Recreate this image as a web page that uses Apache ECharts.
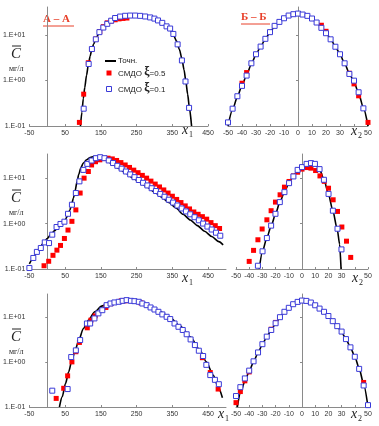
<!DOCTYPE html>
<html><head><meta charset="utf-8">
<script src="https://cdn.jsdelivr.net/npm/echarts@6/dist/echarts.min.js"></script>
<style>html,body{margin:0;padding:0;background:#fff}#c{width:379px;height:426px}</style>
</head><body><div id="c"></div>
<script>
// ---- tick values / labels ----
const yTicks = [0.1, 1, 10];
const xTicksLeft = [-50, 50, 150, 250, 350, 450];
const xTicksRight = [-50, -40, -30, -20, -10, 0, 10, 20, 30, 40, 50];
const xLabelsRight = [-50, -40, -30, -20, -10, 0, 10, 20, 30, 50];
const legendNames = ['Точн.', 'СМДО ξ=0.5', 'СМДО ξ=0.1'];

// ---- Row 1 : А – А (x1) ----
const exact1L = [[93,0.1],[97,0.2],[101,0.4],[105,0.7],[110,1.3],[115,2.2],[120,3.4],[125,4.9],[130,6.3],[137,8.5],[146,11.5],[157,14.8],[168,18],[180,21],[192,23.5],[205,25.3],[220,26.3],[240,26.7],[260,26.4],[280,25.3],[292,24],[300,23.2],[310,21.3],[322,18.8],[334,15.8],[344,13],[353,10],[362,7.3],[370,4.8],[377,3],[383,1.7],[388,0.95],[393,0.5],[398,0.25],[404,0.1]];
const red1L = [[90,0.12],[102,0.5],[115,2.45],[125,4.8],[136,8.1],[147,11.8],[157,15.2],[168,18.4],[179,20.2],[190,21.5],[201,22.5],[212,23],[223,23.5]];
const blue1L = [[102,0.24],[116,2.3],[125,4.9],[136,8.0],[146,11.5],[157,14.5],[168,17.5],[179,20.5],[190,23.5],[204,25.3],[218,26.3],[232,26.6],[246,26.6],[260,26.2],[274,25.4],[288,24.2],[300,22.8],[310,20.8],[322,18.4],[334,15.4],[344,13.8],[353,10.5],[365,6.2],[377,2.75],[387,0.95],[397,0.25]];

// ---- Row 1 : Б – Б (x2) ----
const exact1R = [[-50,0.1],[-46.7,0.23],[-43.3,0.44],[-40,0.78],[-36.7,1.32],[-33.3,2.3],[-30,3.7],[-26.7,5.6],[-23.3,8.1],[-20,11.4],[-16.7,15.5],[-13.3,19.5],[-10,23.2],[-6.7,26.4],[-3.3,28.5],[0,29.3],[3.3,28.4],[6.7,26.2],[10,22.9],[13.3,18.9],[16.7,14.8],[20,11.2],[23.3,8.1],[26.7,5.6],[30,3.75],[33.3,2.35],[36.7,1.42],[40,0.93],[43.3,0.52],[46.7,0.25],[50,0.1]];
const red1R = [[-40,0.87],[-36.7,1.49],[16.7,16.3],[20,12],[36.7,1.44],[40,0.84],[43.3,0.46],[50,0.12]];
const blue1R = [[-50,0.12],[-46.7,0.24],[-43.3,0.45],[-40,0.76],[-36.7,1.28],[-33.3,2.38],[-30,3.76],[-26.7,5.54],[-23.3,8.2],[-20,11.5],[-16.7,15.8],[-13.3,19.3],[-10,23.2],[-6.7,26.6],[-3.3,28.5],[0,29.4],[3.3,28],[6.7,26.2],[10,22.9],[13.3,18.7],[16.7,14.3],[20,10.9],[23.3,8.0],[26.7,5.5],[30,3.76],[33.3,2.38],[36.7,1.39],[40,0.99],[43.3,0.55],[46.7,0.244]];

// ---- Row 2 (x1) ----
const exact2L = [[-50,0.13],[-40,0.17],[-30,0.23],[-20,0.3],[-10,0.38],[0,0.47],[10,0.57],[20,0.69],[30,0.82],[40,0.98],[50,1.2],[57,1.5],[63,1.95],[68,2.6],[73,3.6],[78,5.3],[83,8.2],[88,12],[94,17],[101,21.5],[110,25.5],[120,28.5],[130,30],[140,29.8],[150,28.2],[160,26],[180,21],[200,16.3],[220,12.8],[240,10],[260,8],[280,6.3],[300,4.9],[320,3.8],[340,2.9],[360,2.2],[380,1.6],[400,1.2],[420,0.9],[440,0.68],[460,0.52],[480,0.4],[492,0.34]];
const red2L = [[-9,0.118],[4,0.148],[16,0.2],[27,0.26],[37,0.33],[48,0.47],[58,0.72],[69,1.12],[80,2.0],[92,4.7],[103,10],[115,14],[124,19.5],[135,23],[147,25.3],[159,27],[170,27.5],[182,26.5],[194,24.5],[206,22],[218,19.5],[230,17.2],[242,15],[254,13.2],[266,11.5],[278,10],[290,8.6],[302,7.4],[314,6.4],[326,5.5],[338,4.7],[350,4.0],[362,3.4],[374,2.9],[386,2.45],[398,2.1],[410,1.8],[422,1.6],[434,1.42],[446,1.25],[458,1.05],[470,0.9],[482,0.78]];
const blue2L = [[-50,0.105],[-39,0.175],[-29,0.238],[-18,0.29],[-7,0.385],[5,0.372],[14,0.57],[26,0.84],[37,0.98],[48,1.1],[58,1.64],[69,2.6],[80,4.7],[90,8.5],[101,15.2],[112,20.6],[124,24.4],[136,27.5],[148,28.9],[160,27.5],[172,24.5],[184,21.5],[196,18.7],[208,16.2],[220,14],[232,12.1],[244,10.5],[256,9.1],[268,7.9],[280,6.9],[292,6],[304,5.2],[316,4.5],[328,3.9],[340,3.35],[352,2.9],[364,2.5],[376,2.15],[388,1.85],[400,1.6],[412,1.38],[424,1.18],[436,1.0],[448,0.86],[460,0.74],[472,0.63],[484,0.54]];

// ---- Row 2 (x2) ----
const exact2R = [[-32.4,0.1],[-30,0.24],[-26.7,0.48],[-23.3,0.9],[-20,1.65],[-16.7,3],[-13.3,4.9],[-10,7.7],[-6.7,11],[-3.3,14.8],[0,18],[3.3,20.3],[6.7,21.3],[9,20.5],[11.5,18],[13.5,15],[16.7,9.2],[20,4.5],[23.3,1.95],[26.7,0.75],[28.5,0.35],[29.6,0.1]];
const red2R = [[-40,0.147],[-36.7,0.257],[-33.4,0.44],[-30.2,0.76],[-26.6,1.21],[-23.4,1.92],[-20.1,2.97],[-16.6,4.3],[-13.3,6.34],[-9.8,8.45],[-6.5,11.2],[-3.3,13.5],[0,15.8],[3.5,17.1],[6.8,16.6],[10.3,14.7],[13.6,11.2],[16.9,8.5],[20.1,6.0],[23.6,3.34],[26.9,1.85],[30.2,0.84],[33.7,0.41],[36.9,0.18]];
const blue2R = [[-33.4,0.118],[-29.9,0.245],[-26.6,0.48],[-23.4,0.9],[-20.1,1.64],[-16.8,2.97],[-13.3,4.92],[-9.8,7.76],[-6.5,10.9],[-3.3,15.2],[0,17.5],[3.5,20.6],[6.8,21.4],[9.8,20.6],[13.3,15.8],[16.6,9.2],[20.1,4.5],[23.4,1.92],[26.9,0.77],[29.9,0.27]];

// ---- Row 3 (x1) ----
const exact3L = [[34,0.1],[42,0.17],[51,0.33],[60,0.6],[69,1.1],[78,1.8],[88,3.0],[101,5.5],[115,8.4],[133,12.9],[152,17.2],[179,21.5],[207,23.4],[234,22.6],[262,20.4],[289,16.6],[317,12.9],[344,9.5],[372,6.2],[400,3.6],[427,1.83],[445,1.0],[464,0.51],[478,0.28],[490,0.16]];
const red3L = [[25,0.155],[46,0.26],[57,0.49],[69,1.0],[80,1.68],[90,2.7],[112,5.7],[122,8.4],[134,10.5],[164,16.1],[178,19.5],[207,22.6],[218,22.6],[262,20.4],[434,1.24],[456,0.58],[478,0.25]];
const blue3L = [[14,0.23],[57,0.25],[67,1.28],[80,1.8],[92,3.05],[111,7.1],[120,7.1],[132,9.2],[143,11.9],[154,14],[166,18.1],[177,19.7],[188,20.8],[200,21.5],[211,22.6],[222,23.4],[234,22.6],[244,22.2],[256,21.5],[266,19.7],[278,18.1],[289,16.1],[300,14.5],[311,12.9],[322,11.3],[334,10],[344,8.9],[356,7.1],[367,6.0],[379,5.1],[390,4.1],[401,3.15],[413,2.36],[424,1.77],[436,1.35],[445,0.86],[456,0.51],[469,0.4],[480,0.32]];

// ---- Row 3 (x2) ----
const exact3R = [[-49,0.1],[-46.7,0.2],[-43.3,0.37],[-40,0.62],[-36.7,1.0],[-33.3,1.6],[-30,2.45],[-26.7,3.6],[-23.3,5.1],[-20,7.1],[-16.7,9.7],[-13.3,12.8],[-10,15.8],[-6.7,18.9],[-3.3,21.3],[0,22.6],[3.3,22.3],[6.7,20.6],[10,18.1],[13.3,15.3],[16.7,12.7],[20,10.3],[23.3,8.1],[26.7,6.2],[30,4.6],[33.3,3.2],[36.7,2.1],[40,1.3],[43.3,0.72],[46.7,0.32],[50,0.1]];
const red3R = [[-50,0.125],[-46.7,0.22],[-43.3,0.38],[-40,0.6],[-23.3,5.3],[-20,7.5],[46.7,0.35]];
const blue3R = [[-50,0.175],[-46.7,0.275],[-43.3,0.43],[-40,0.64],[-36.7,1.03],[-33.3,1.62],[-30,2.47],[-26.7,3.63],[-23.3,5.1],[-20,7.2],[-16.7,9.8],[-13.3,12.9],[-10,15.8],[-6.7,19],[-3.3,21.4],[0,22.9],[3.3,22.5],[6.7,20.7],[10,18],[13.3,15.2],[16.7,12.9],[20,10.4],[23.3,8.0],[26.7,6.2],[30,4.7],[33.3,3.2],[36.7,2.1],[40,1.3],[43.3,0.7],[46.7,0.3],[50,0.11]];

// ---- layout ----
const panels = [
  {grid:{left:27, top:7,   width:181, height:119}, xMin:-50, xMax:450, yMax:41, side:'L', data:[exact1L, red1L, blue1L]},
  {grid:{left:228,top:7,   width:140, height:119}, xMin:-50, xMax:50,  yMax:41, side:'R', data:[exact1R, red1R, blue1R]},
  {grid:{left:27, top:154, width:199, height:115}, xMin:-50, xMax:500, yMax:34, side:'L', data:[exact2L, red2L, blue2L]},
  {grid:{left:236,top:154, width:132, height:115}, xMin:-50, xMax:50,  yMax:34, side:'R', data:[exact2R, red2R, blue2R]},
  {grid:{left:27, top:294, width:199, height:113}, xMin:-50, xMax:500, yMax:32, side:'L', data:[exact3L, red3L, blue3L]},
  {grid:{left:236,top:294, width:132, height:113}, xMin:-50, xMax:50,  yMax:32, side:'R', data:[exact3R, red3R, blue3R]}
];

const axisCol = '#8a8a8a';
const lblStyle = {fontFamily:'Liberation Sans', fontSize:7, color:'#333'};
const yFmt = v => { const e = Math.round(Math.log10(v)); return '1.E' + (e < 0 ? '-' : '+') + String(Math.abs(e)).padStart(2, '0'); };

const grids = [], xAxes = [], yAxes = [], series = [];
panels.forEach((p, i) => {
  grids.push(Object.assign({}, p.grid));
  const L = p.side === 'L';
  xAxes.push({
    gridIndex:i, type:'value', min:p.xMin, max:p.xMax,
    axisLine:{lineStyle:{color:axisCol, width:1}},
    axisTick:{show:true, inside:true, length:2, lineStyle:{color:axisCol}, customValues: L ? xTicksLeft : xTicksRight},
    axisLabel:Object.assign({margin:4, customValues: L ? xTicksLeft : xLabelsRight}, lblStyle),
    splitLine:{show:false}
  });
  yAxes.push({
    gridIndex:i, type:'log', logBase:10, min:0.1, max:p.yMax,
    axisLine:{show:true, lineStyle:{color:axisCol, width:1}},
    axisTick:{show:true, length:2, lineStyle:{color:axisCol}, customValues:yTicks},
    axisLabel:Object.assign({show:L, margin:4, formatter:yFmt, customValues:yTicks}, lblStyle),
    splitLine:{show:false}
  });
  series.push({name:legendNames[0], type:'line', xAxisIndex:i, yAxisIndex:i, data:p.data[0], showSymbol:false, smooth:0.25, smoothMonotone:'x', lineStyle:{color:'#000', width:1.6}, z:2, silent:true});
  series.push({name:legendNames[1], type:'scatter', xAxisIndex:i, yAxisIndex:i, data:p.data[1], symbol:'rect', symbolSize:5, itemStyle:{color:'#ff0000', opacity:1}, z:3, silent:true});
  series.push({name:legendNames[2], type:'scatter', xAxisIndex:i, yAxisIndex:i, data:p.data[2], symbol:'rect', symbolSize:5, itemStyle:{color:'#ffffff', borderColor:'#3a3ad8', borderWidth:1, opacity:1}, z:4, silent:true});
});

// ---- decorations ----
const serif = 'Liberation Serif';
const titleCol = '#e8402a';
const g = [];
function yTitle(cy) {
  g.push({type:'text', left:11, top:cy-8, style:{text:'C', font:'italic 15px ' + serif, fill:'#222'}});
  g.push({type:'line', shape:{x1:12, y1:cy-9, x2:21, y2:cy-9}, style:{stroke:'#222', lineWidth:1}});
  g.push({type:'text', left:9, top:cy+10, style:{text:'мг/л', font:'8px ' + serif, fill:'#222'}});
}
yTitle(55); yTitle(199); yTitle(338);
function xTitle(x, y, sub) {
  g.push({type:'text', left:x, top:y-9, style:{text:'x', font:'italic 14px ' + serif, fill:'#222'}});
  g.push({type:'text', left:x+7, top:y-1, style:{text:sub, font:'8px ' + serif, fill:'#222'}});
}
xTitle(182, 132, '1'); xTitle(182, 280, '1'); xTitle(218, 416, '1');
xTitle(351, 133, '2'); xTitle(352, 280, '2'); xTitle(351, 416, '2');
// section titles
g.push({type:'text', left:43, top:14, style:{text:'А – А', font:'bold 11px ' + serif, fill:titleCol}});
g.push({type:'line', shape:{x1:43, y1:26, x2:74, y2:26}, style:{stroke:titleCol, lineWidth:1}});
g.push({type:'text', left:241, top:12, style:{text:'Б – Б', font:'bold 11px ' + serif, fill:titleCol}});
g.push({type:'line', shape:{x1:241, y1:24, x2:270, y2:24}, style:{stroke:titleCol, lineWidth:1}});
// legend
g.push({type:'line', shape:{x1:105, y1:61, x2:116, y2:61}, style:{stroke:'#000', lineWidth:2}});
g.push({type:'text', left:118, top:57, style:{text:legendNames[0], font:'8px Liberation Sans', fill:'#222'}});
g.push({type:'rect', shape:{x:106.5, y:70.5, width:5, height:5}, style:{fill:'#ff0000'}});
g.push({type:'rect', shape:{x:106.5, y:86.5, width:5, height:5}, style:{fill:'#fff', stroke:'#3a3ad8', lineWidth:1}});
function legText(y, val) {
  g.push({type:'text', left:118, top:y, style:{
    text:'{a|СМДО }{b|ξ}{a|=' + val + '}',
    rich:{a:{fontFamily:'Liberation Sans', fontSize:8, fill:'#222', verticalAlign:'bottom'}, b:{fontFamily:serif, fontWeight:'bold', fontSize:12, fill:'#222', verticalAlign:'bottom'}}
  }});
}
legText(66, '0.5'); legText(82, '0.1');

const chart = echarts.init(document.getElementById('c'), null, {renderer:'canvas'});
chart.setOption({animation:false, backgroundColor:'#fff', grid:grids, xAxis:xAxes, yAxis:yAxes, series:series, graphic:g});
</script></body></html>
